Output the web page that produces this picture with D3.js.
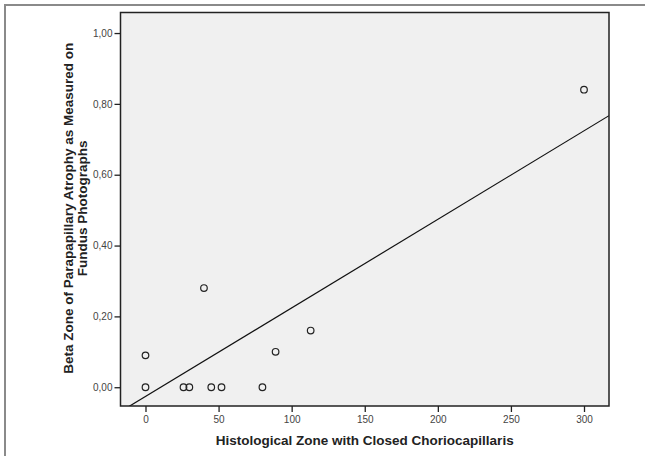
<!DOCTYPE html>
<html>
<head>
<meta charset="utf-8">
<script src="https://cdn.jsdelivr.net/npm/d3@7"></script>
<style>
	body { margin: 0; background: #fff; }
	svg { display: block; font-family: 'Liberation Sans', Arial, sans-serif; }
</style>
</head>
<body>
<div id="chart"></div>
<script>
// data
const zoneClosed = [0, 0, 26, 30, 40, 45, 52, 80, 89, 113, 300]
const betaZone = [0, 0.09, 0, 0, 0.28, 0, 0, 0, 0.10, 0.16, 0.84]
// linear fit line: intercept, slope
const fitLine = [-0.026, 0.0025]
const xTicks = [0, 50, 100, 150, 200, 250, 300]
const yTicks = [0, 0.2, 0.4, 0.6, 0.8, 1.0]

const width = 645
const height = 456
const plot = { left: 120.5, top: 12.5, right: 609, bottom: 406 }

const svg = d3.select('#chart')
	.append('svg')
	.attr('width', width)
	.attr('height', height)

// outer frame (top + left only visible)
svg.append('path')
	.attr('d', 'M5,456 V5 H645')
	.attr('fill', 'none')
	.attr('stroke', '#8a8a8a')
	.attr('stroke-width', 2)

const x = d3.scaleLinear()
	.domain([-17.1, 317.1])
	.range([plot.left, plot.right])

const y = d3.scaleLinear()
	.domain([-0.053, 1.058])
	.range([plot.bottom, plot.top])

// plot background
svg.append('rect')
	.attr('x', plot.left)
	.attr('y', plot.top)
	.attr('width', plot.right - plot.left)
	.attr('height', plot.bottom - plot.top)
	.attr('fill', '#f0f0f0')

const comma = d => d3.format('.2f')(d).replace('.', ',')

const xAxis = svg.append('g')
	.attr('transform', `translate(0,${plot.bottom})`)
	.call(d3.axisBottom(x).tickValues(xTicks).tickSize(6).tickPadding(4))
const yAxis = svg.append('g')
	.attr('transform', `translate(${plot.left},0)`)
	.call(d3.axisLeft(y).tickValues(yTicks).tickFormat(comma).tickSize(6).tickPadding(2))

;[xAxis, yAxis].forEach(g => {
	g.select('.domain').remove()
	g.selectAll('line').attr('stroke', '#222').attr('stroke-width', 1.3)
	g.selectAll('text')
		.attr('fill', '#444')
		.style('font-size', '10px')
		.style('font-family', "'Liberation Sans', Arial, sans-serif")
})

// regression line clipped to the plot area
svg.append('clipPath').attr('id', 'clip')
	.append('rect')
	.attr('x', plot.left)
	.attr('y', plot.top)
	.attr('width', plot.right - plot.left)
	.attr('height', plot.bottom - plot.top)

const xs = x.domain()
svg.append('line')
	.attr('clip-path', 'url(#clip)')
	.attr('x1', x(xs[0]))
	.attr('y1', y(fitLine[0] + fitLine[1] * xs[0]))
	.attr('x2', x(xs[1]))
	.attr('y2', y(fitLine[0] + fitLine[1] * xs[1]))
	.attr('stroke', '#111')
	.attr('stroke-width', 1.2)

svg.append('g')
	.selectAll('circle')
	.data(zoneClosed.map((v, i) => [v, betaZone[i]]))
	.enter()
	.append('circle')
	.attr('cx', d => x(d[0]))
	.attr('cy', d => y(d[1]))
	.attr('r', 3.3)
	.attr('fill', 'none')
	.attr('stroke', '#222')
	.attr('stroke-width', 1.2)

// plot border
svg.append('rect')
	.attr('x', plot.left)
	.attr('y', plot.top)
	.attr('width', plot.right - plot.left)
	.attr('height', plot.bottom - plot.top)
	.attr('fill', 'none')
	.attr('stroke', '#222')
	.attr('stroke-width', 1.5)

// axis titles
svg.append('text')
	.attr('x', (plot.left + plot.right) / 2)
	.attr('y', 445)
	.attr('text-anchor', 'middle')
	.attr('font-weight', 'bold')
	.attr('font-size', '13.5px')
	.attr('fill', '#222')
	.text('Histological Zone with Closed Choriocapillaris')

const yTitle = svg.append('text')
	.attr('transform', `translate(72.5,${(plot.top + plot.bottom) / 2 - 1}) rotate(-90)`)
	.attr('text-anchor', 'middle')
	.attr('font-weight', 'bold')
	.attr('font-size', '13.5px')
	.attr('fill', '#222')
yTitle.append('tspan').attr('x', 0).attr('y', 0).text('Beta Zone of Parapapillary Atrophy as Measured on')
yTitle.append('tspan').attr('x', 0).attr('y', 14).text('Fundus Photographs')
</script>
</body>
</html>
